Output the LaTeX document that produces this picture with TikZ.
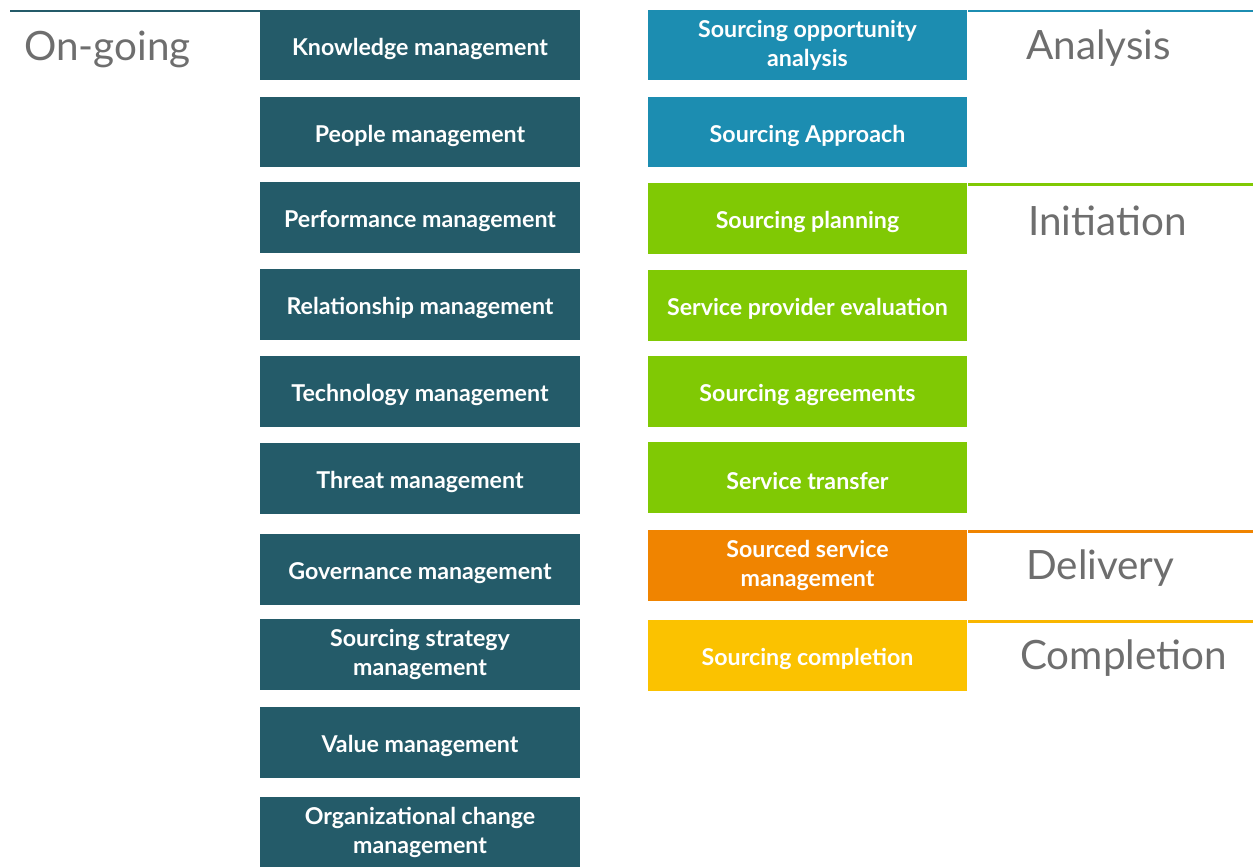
\documentclass[tikz,border=0pt]{standalone}
\usepackage{fontspec}
\setmainfont{Lato}
\definecolor{ongoing}{HTML}{245B69}
\definecolor{analysis}{HTML}{1C8DB1}
\definecolor{initiation}{HTML}{80C904}
\definecolor{delivery}{HTML}{F08400}
\definecolor{completion}{HTML}{FBC200}
\definecolor{labelgray}{HTML}{6E6E6E}
\begin{document}
\begin{tikzpicture}[x=0.02cm,y=-0.02cm,
    box/.style={minimum width=6.4cm, minimum height=1.42cm, inner sep=0pt,
      align=center, text=white, font=\fontsize{13.2}{16.5}\selectfont\bfseries,
      execute at begin node={\rule{0pt}{14pt}}},
    phase/.style={anchor=west, text=labelgray, font=\fontsize{23}{26}\selectfont},
    rule/.style={line width=1.7pt}]
    \useasboundingbox (0,0) rectangle (1253,866);

    % on-going column
    \node[box, fill=ongoing] (km) at (420,45) {Knowledge management};
    \node[box, fill=ongoing] (pm) at (420,132) {People management};
    \node[box, fill=ongoing] (pfm) at (420,217.5) {Performance management};
    \node[box, fill=ongoing] (rm) at (420,304) {Relationship management};
    \node[box, fill=ongoing] (tm) at (420,391) {Technology management};
    \node[box, fill=ongoing] (thm) at (420,478.5) {Threat management};
    \node[box, fill=ongoing] (gm) at (420,569.5) {Governance management};
    \node[box, fill=ongoing] (ssm) at (420,654.5) {Sourcing strategy\\management};
    \node[box, fill=ongoing] (vm) at (420,742.5) {Value management};
    \node[box, fill=ongoing] (ocm) at (420,832.5) {Organizational change\\management};

    % life-cycle column
    \node[box, fill=analysis] (soa) at (807.5,45) {Sourcing opportunity\\analysis};
    \node[box, fill=analysis] (sa) at (807.5,132) {Sourcing Approach};
    \node[box, fill=initiation] (sp) at (807.5,218) {Sourcing planning};
    \node[box, fill=initiation] (spe) at (807.5,305) {Service provider evaluation};
    \node[box, fill=initiation] (sag) at (807.5,391) {Sourcing agreements};
    \node[box, fill=initiation] (st) at (807.5,477) {Service transfer};
    \node[box, fill=delivery] (ssvm) at (807.5,565) {Sourced service\\management};
    \node[box, fill=completion] (sc) at (807.5,655) {Sourcing completion};

    % phase labels
    \node[phase] (lon) at (18,49) {On-going};
    \node[phase] (lan) at (1020,48) {Analysis};
    \node[phase] (lin) at (1022,221) {Initiation};
    \node[phase] (lde) at (1020,568) {Delivery};
    \node[phase] (lco) at (1014,658) {Completion};

    % phase rules
    \coordinate (eon) at (10,11);
    \coordinate (ean) at (1253,11);
    \coordinate (ein) at (1253,184);
    \coordinate (ede) at (1253,531);
    \coordinate (eco) at (1253,621);
    \draw[rule, ongoing] (eon) -- (eon -| km.west);
    \draw[rule, analysis] (soa.east |- ean) -- (ean);
    \draw[rule, initiation] (sp.east |- ein) -- (ein);
    \draw[rule, delivery] (ssvm.east |- ede) -- (ede);
    \draw[rule, completion!80!delivery] (sc.east |- eco) -- (eco);
\end{tikzpicture}
\end{document}
